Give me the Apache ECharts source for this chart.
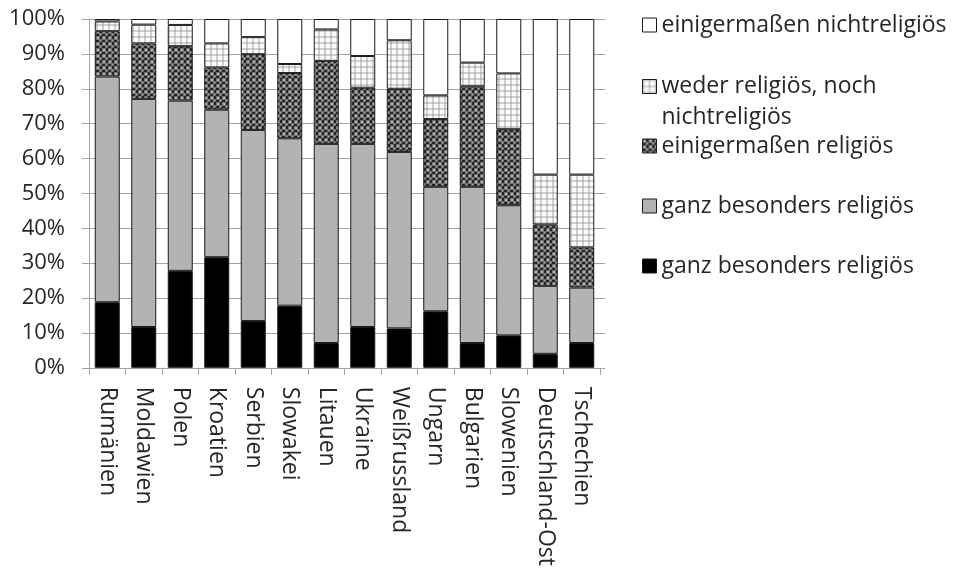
<!DOCTYPE html>
<html>
<head>
<meta charset="utf-8">
<script src="https://cdn.jsdelivr.net/npm/echarts@6/dist/echarts.min.js"></script>
<style>
  html, body { margin: 0; padding: 0; background: #fff; }
  #chart { width: 955px; height: 569px; }
</style>
</head>
<body>
<div id="chart"></div>
<script>
// Religiosität nach Land, Anteile in Prozent (gestapelt auf 100 %)
const categories = ['Rumänien', 'Moldawien', 'Polen', 'Kroatien', 'Serbien', 'Slowakei', 'Litauen',
  'Ukraine', 'Weißrussland', 'Ungarn', 'Bulgarien', 'Slowenien', 'Deutschland-Ost', 'Tschechien'];

const ganzBesondersSchwarz = [18.8, 11.7, 27.8, 31.7, 13.4, 17.8, 7.1, 11.7, 11.3, 16.2, 7.1, 9.3, 4.0, 7.1];
const ganzBesondersGrau    = [64.7, 65.4, 48.8, 42.3, 54.8, 48.0, 57.1, 52.5, 50.6, 35.7, 44.8, 37.3, 19.5, 15.9];
const einigermassenRel     = [13.0, 15.9, 15.6, 12.1, 21.7, 18.7, 23.8, 16.1, 18.1, 19.4, 28.8, 21.8, 17.6, 11.5];
const wederNoch            = [2.8, 5.4, 6.1, 6.9, 4.9, 2.6, 9.0, 9.1, 13.9, 6.8, 6.8, 16.0, 14.3, 20.9];
const einigermassenNicht   = [0.7, 1.6, 1.7, 7.0, 5.2, 12.9, 3.0, 10.6, 6.1, 21.9, 12.5, 15.6, 44.6, 44.6];

const yTicks = { min: 0, max: 100, interval: 10 };

// Legend labels (the grey and black series carry the same label text)
const nameBlack = 'ganz besonders religiös';
const nameGray = 'ganz besonders religiös ';
const nameDark = 'einigermaßen religiös';
const nameLight = 'weder religiös, noch nichtreligiös';
const nameWhite = 'einigermaßen nichtreligiös';

// Tile patterns for the hatched segments
function tile(size, draw) {
  const c = document.createElement('canvas');
  c.width = size; c.height = size;
  draw(c.getContext('2d'));
  return c;
}
const darkTile = tile(6, ctx => {
  ctx.fillStyle = '#262626';
  ctx.fillRect(0, 0, 6, 6);
  ctx.fillStyle = '#707070';
  ctx.fillRect(0, 0, 4, 4);
  ctx.fillRect(3, 3, 3, 3);
  ctx.fillStyle = '#b4b4b4';
  ctx.fillRect(1, 1, 2, 2);
  ctx.fillRect(4, 4, 1, 1);
});
const lightTile = tile(6, ctx => {
  ctx.fillStyle = '#fbfbfb';
  ctx.fillRect(0, 0, 6, 6);
  ctx.fillStyle = '#d0d0d0';
  ctx.fillRect(0, 0, 6, 2);
  ctx.fillRect(0, 0, 2, 6);
  ctx.fillStyle = '#b6b6b6';
  ctx.fillRect(0, 0, 2, 2);
});
const darkFill = { image: darkTile, repeat: 'repeat' };
const lightFill = { image: lightTile, repeat: 'repeat' };

const FONT = '"Open Sans", "Noto Sans", sans-serif';
const TEXT = '#262626';
const GRID = '#a3a3a3';

const chart = echarts.init(document.getElementById('chart'), null, { renderer: 'canvas' });

function bar(name, data, color) {
  return {
    name, type: 'bar', stack: 'total', data,
    barWidth: 25,
    itemStyle: { color, borderColor: '#1a1a1a', borderWidth: 1 },
    emphasis: { disabled: true },
    animation: false
  };
}

const legendBase = {
  orient: 'vertical',
  left: 642,
  padding: 0,
  icon: 'rect',
  itemWidth: 14,
  itemHeight: 14,
  selectedMode: false,
  itemStyle: { borderColor: '#1a1a1a', borderWidth: 1 },
  textStyle: { fontFamily: FONT, fontSize: 23, color: TEXT, lineHeight: 30 }
};

chart.setOption({
  backgroundColor: '#fff',
  animation: false,
  grid: { left: 89, right: 355, top: 19, bottom: 197, containLabel: false },
  xAxis: {
    type: 'category',
    data: categories,
    axisLine: { lineStyle: { color: GRID, width: 1 } },
    axisTick: { show: true, length: 7, lineStyle: { color: GRID } },
    axisLabel: {
      rotate: -90, margin: 19, interval: 0,
      fontFamily: FONT, fontSize: 23, color: TEXT
    }
  },
  yAxis: [{
    type: 'value',
    min: yTicks.min, max: yTicks.max, interval: yTicks.interval,
    axisLine: { show: true, lineStyle: { color: GRID } },
    axisTick: { show: true, length: 7, lineStyle: { color: GRID } },
    splitLine: { show: true, lineStyle: { color: GRID, width: 1 } },
    axisLabel: { formatter: '{value}%', margin: 24, fontFamily: FONT, fontSize: 22, color: TEXT }
  }, {
    type: 'value', position: 'right',
    min: yTicks.min, max: yTicks.max, interval: yTicks.interval,
    axisLine: { show: false },
    axisTick: { show: true, length: 5, lineStyle: { color: GRID } },
    splitLine: { show: false },
    axisLabel: { show: false }
  }],
  legend: [
    Object.assign({}, legendBase, { top: 10, data: [nameWhite] }),
    Object.assign({}, legendBase, {
      top: 40, data: [nameLight],
      // leading empty line keeps the first text line level with the swatch
      formatter: () => '\nweder religiös, noch\nnichtreligiös',
      textStyle: Object.assign({}, legendBase.textStyle, { lineHeight: 31 })
    }),
    Object.assign({}, legendBase, { top: 131, data: [nameDark] }),
    Object.assign({}, legendBase, { top: 191, data: [nameGray], formatter: n => n.trim() }),
    Object.assign({}, legendBase, { top: 251, data: [nameBlack] })
  ],
  series: [
    bar(nameBlack, ganzBesondersSchwarz, '#000000'),
    bar(nameGray, ganzBesondersGrau, '#b3b3b3'),
    bar(nameDark, einigermassenRel, darkFill),
    bar(nameLight, wederNoch, lightFill),
    bar(nameWhite, einigermassenNicht, '#ffffff')
  ]
});
</script>
</body>
</html>
